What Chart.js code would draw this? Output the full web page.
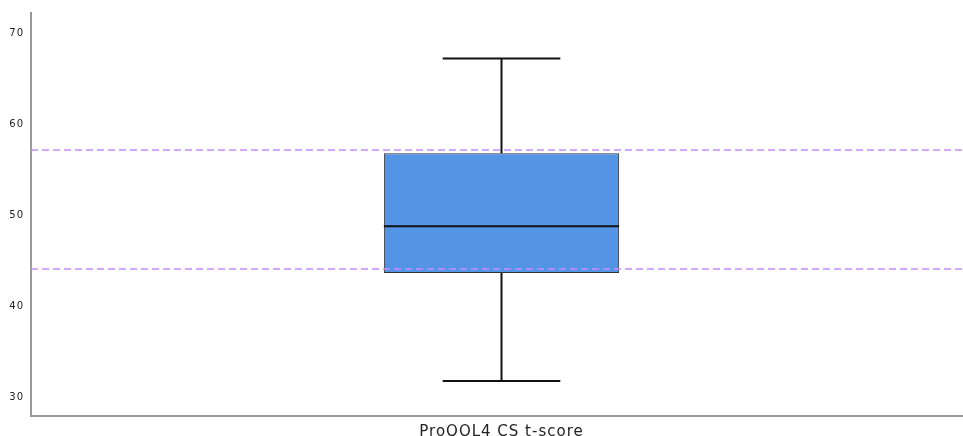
<!DOCTYPE html>
<html>
<head>
<meta charset="utf-8">
<script src="https://cdn.jsdelivr.net/npm/chart.js@4"></script>
<style>
  html, body { margin: 0; padding: 0; background: #fff; overflow: hidden; }
  #wrap { position: relative; width: 972px; height: 436px; }
</style>
</head>
<body>
<div id="wrap"><canvas id="c"></canvas></div>
<script>
// Box-plot summary for the single variable
const categories = ['ProQOL4 CS t-score'];
const whiskerLow = [31.75];
const quartile1 = [43.65];
const medians = [48.8];
const quartile3 = [56.85];
const whiskerHigh = [67.3];
// Reference lines (dashed)
const refLines = [57.2, 44.1];
// Y axis
const yTicks = [30, 40, 50, 60, 70];
const yMin = 27.9;
const yMax = 72.3;

// Slightly open letter spacing for all chart text
const textSpacing = {
  id: 'textSpacing',
  beforeDraw(chart) { chart.ctx.letterSpacing = '1px'; }
};

// Draws whiskers, caps, median and dashed reference lines via the chart scales
const boxExtras = {
  id: 'boxExtras',
  afterDatasetsDraw(chart) {
    const ctx = chart.ctx;
    const y = chart.scales.y;
    const meta = chart.getDatasetMeta(0);
    ctx.save();
    meta.data.forEach((bar, i) => {
      const cx = bar.x;
      const half = bar.width / 2;
      const capHalf = half / 2;
      ctx.strokeStyle = '#111';
      ctx.lineWidth = 2;
      ctx.lineCap = 'butt';
      const yLo = y.getPixelForValue(whiskerLow[i]);
      const yQ1 = y.getPixelForValue(quartile1[i]);
      const yQ3 = y.getPixelForValue(quartile3[i]);
      const yHi = y.getPixelForValue(whiskerHigh[i]);
      const yMed = y.getPixelForValue(medians[i]);
      ctx.beginPath();
      ctx.moveTo(cx, yQ1); ctx.lineTo(cx, yLo);
      ctx.moveTo(cx, yQ3); ctx.lineTo(cx, yHi);
      ctx.moveTo(cx - capHalf, yLo); ctx.lineTo(cx + capHalf, yLo);
      ctx.moveTo(cx - capHalf, yHi); ctx.lineTo(cx + capHalf, yHi);
      ctx.moveTo(cx - half, yMed); ctx.lineTo(cx + half, yMed);
      ctx.stroke();
    });
    ctx.strokeStyle = '#c88cff';
    ctx.lineWidth = 1.6;
    ctx.setLineDash([7, 4]);
    refLines.forEach(v => {
      const py = Math.round(y.getPixelForValue(v));
      ctx.beginPath();
      ctx.moveTo(chart.chartArea.left, py);
      ctx.lineTo(chart.chartArea.right, py);
      ctx.stroke();
    });
    ctx.restore();
  }
};

new Chart(document.getElementById('c'), {
  type: 'bar',
  data: {
    labels: categories,
    datasets: [{
      data: quartile1.map((q, i) => [q, quartile3[i]]),
      backgroundColor: '#5494e4',
      borderColor: '#333',
      borderWidth: 1,
      borderSkipped: false,
      barPercentage: 0.25,
      categoryPercentage: 1.0
    }]
  },
  options: {
    responsive: true,
    maintainAspectRatio: false,
    animation: false,
    layout: { padding: { top: 9, right: 0, bottom: 0, left: 0 } },
    plugins: { legend: { display: false }, tooltip: { enabled: false } },
    scales: {
      x: {
        grid: { display: false, drawTicks: false },
        border: { color: '#999', width: 2 },
        afterFit(scale) { scale.height = 20; },
        ticks: {
          color: '#222',
          padding: 7,
          font: { family: 'DejaVu Sans', size: 15 }
        }
      },
      y: {
        min: yMin,
        max: yMax,
        grid: { display: false, drawTicks: false },
        border: { color: '#999', width: 2 },
        afterBuildTicks(scale) { scale.ticks = yTicks.map(v => ({ value: v })); },
        afterFit(scale) { scale.width = 31; },
        ticks: {
          color: '#222',
          padding: 7,
          font: { family: 'DejaVu Sans', size: 10 }
        }
      }
    }
  },
  plugins: [textSpacing, boxExtras]
});
</script>
</body>
</html>
